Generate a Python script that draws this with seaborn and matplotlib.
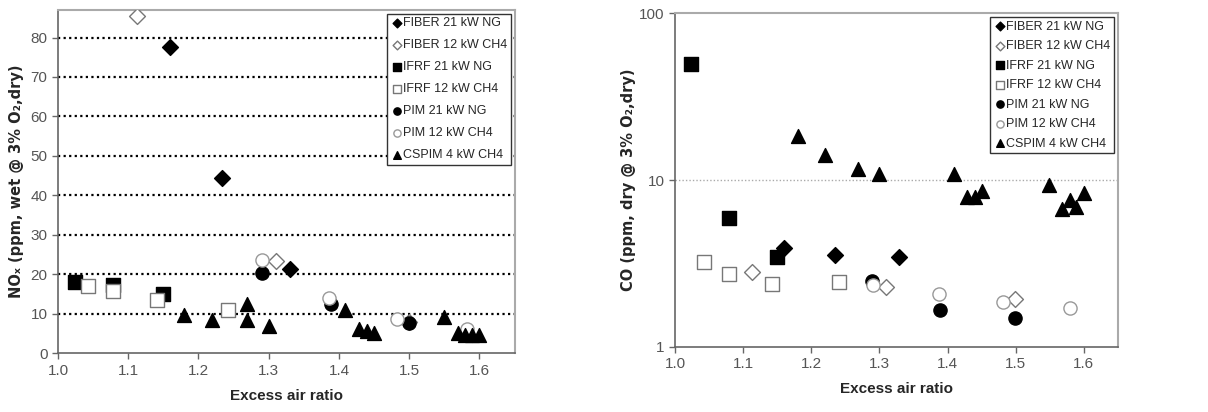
import numpy as np
import pandas as pd
import matplotlib
matplotlib.use("Agg")
import matplotlib.pyplot as plt
import seaborn as sns

sns.set_theme(style="white")
plt.rcParams['font.family'] = ['Liberation Sans', 'DejaVu Sans']

# ---------------- data ----------------
series_labels = ["FIBER 21 kW NG", "FIBER 12 kW CH4", "IFRF 21 kW NG", "IFRF 12 kW CH4",
                 "PIM 21 kW NG", "PIM 12 kW CH4", "CSPIM 4 kW CH4"]

# NOx panel
nox_fiber21_x = [1.159, 1.233, 1.330]
nox_fiber21_y = [77.7, 44.5, 21.2]
nox_fiber12_x = [1.112, 1.311, 1.500]
nox_fiber12_y = [85.4, 23.4, 8.0]
nox_ifrf21_x = [1.024, 1.079, 1.149]
nox_ifrf21_y = [18.0, 17.2, 14.9]
nox_ifrf12_x = [1.043, 1.079, 1.141, 1.242]
nox_ifrf12_y = [16.9, 15.7, 13.5, 10.8]
nox_pim21_x = [1.290, 1.389, 1.499]
nox_pim21_y = [20.2, 12.5, 7.6]
nox_pim12_x = [1.291, 1.386, 1.483, 1.582]
nox_pim12_y = [23.5, 14.0, 8.7, 6.2]
nox_cspim_x = [1.180, 1.219, 1.269, 1.269, 1.300, 1.409, 1.429, 1.440, 1.450,
               1.549, 1.569, 1.580, 1.589, 1.600]
nox_cspim_y = [9.6, 8.5, 12.5, 8.3, 6.8, 11.0, 6.2, 5.6, 5.2,
               9.1, 5.1, 4.7, 4.7, 4.7]

# CO panel
co_fiber21_x = [1.160, 1.234, 1.329]
co_fiber21_y = [3.89, 3.55, 3.47]
co_fiber12_x = [1.113, 1.310, 1.499]
co_fiber12_y = [2.82, 2.29, 1.95]
co_ifrf21_x = [1.024, 1.079, 1.149]
co_ifrf21_y = [49.4, 5.89, 3.44]
co_ifrf12_x = [1.043, 1.079, 1.142, 1.241]
co_ifrf12_y = [3.24, 2.72, 2.38, 2.45]
co_pim21_x = [1.289, 1.389, 1.499]
co_pim21_y = [2.49, 1.67, 1.48]
co_pim12_x = [1.291, 1.387, 1.481, 1.580]
co_pim12_y = [2.34, 2.07, 1.86, 1.70]
co_cspim_x = [1.180, 1.220, 1.269, 1.300, 1.410, 1.429, 1.440, 1.451,
              1.549, 1.568, 1.579, 1.589, 1.600]
co_cspim_y = [18.4, 14.1, 11.6, 10.9, 10.9, 7.9, 7.9, 8.6,
              9.3, 6.7, 7.6, 6.9, 8.4]

nox_tick_labels = ["0", "10", "20", "30", "40", "50", "60", "70", "80"]
co_tick_labels = ["1", "10", "100"]
x_tick_labels = ["1.0", "1.1", "1.2", "1.3", "1.4", "1.5", "1.6"]

# ---------------- styles ----------------
styles = [
    dict(marker="D", fc="black", ec="black", s=65),
    dict(marker="D", fc="white", ec="#777777", s=65),
    dict(marker="s", fc="black", ec="black", s=100),
    dict(marker="s", fc="white", ec="#777777", s=100),
    dict(marker="o", fc="black", ec="black", s=90),
    dict(marker="o", fc="white", ec="#999999", s=90),
    dict(marker="^", fc="black", ec="black", s=100),
]

nox_data = [(nox_fiber21_x, nox_fiber21_y), (nox_fiber12_x, nox_fiber12_y),
            (nox_ifrf21_x, nox_ifrf21_y), (nox_ifrf12_x, nox_ifrf12_y),
            (nox_pim21_x, nox_pim21_y), (nox_pim12_x, nox_pim12_y),
            (nox_cspim_x, nox_cspim_y)]
co_data = [(co_fiber21_x, co_fiber21_y), (co_fiber12_x, co_fiber12_y),
           (co_ifrf21_x, co_ifrf21_y), (co_ifrf12_x, co_ifrf12_y),
           (co_pim21_x, co_pim21_y), (co_pim12_x, co_pim12_y),
           (co_cspim_x, co_cspim_y)]

fig = plt.figure(figsize=(12.08, 4.12), dpi=100)
ax1 = fig.add_axes([0.048, 0.143, 0.378, 0.833])
ax2 = fig.add_axes([0.5588, 0.158, 0.3667, 0.810])

def draw(ax, data):
    for lab, (xs, ys), st in zip(series_labels, data, styles):
        df = pd.DataFrame({"x": xs, "y": ys})
        sns.scatterplot(data=df, x="x", y="y", ax=ax, marker=st["marker"],
                        color=st["fc"], edgecolor=st["ec"], linewidth=1.0,
                        s=st["s"], label=lab, zorder=3)

draw(ax1, nox_data)
draw(ax2, co_data)

# NOx axis
ax1.set_xlim(1.0, 1.65)
ax1.set_ylim(0, 87)
ax1.set_yticks(np.arange(0, 81, 10))
ax1.set_yticklabels(nox_tick_labels)
for v in range(10, 81, 10):
    ax1.axhline(v, color="black", linestyle=(0, (1, 1.5)), linewidth=1.6, zorder=1)
ax1.set_ylabel("NOₓ (ppm, wet @ 3% O₂,dry)", fontsize=10.5, fontweight="bold",
               family=['DejaVu Sans'], labelpad=5)

# CO axis
ax2.set_yscale("log")
ax2.set_xlim(1.0, 1.65)
ax2.set_ylim(1, 100)
ax2.set_yticks([1, 10, 100])
ax2.set_yticklabels(co_tick_labels)
ax2.minorticks_off()
ax2.axhline(10, color="#aaaaaa", linestyle=(0, (1, 1.5)), linewidth=1.0, zorder=1)
ax2.set_ylabel("CO (ppm, dry @ 3% O₂,dry)", fontsize=10.5, fontweight="bold",
               family=['DejaVu Sans'], labelpad=2)

for ax, lsp in ((ax1, 0.8), (ax2, 0.6)):
    ax.set_xticks(np.arange(1.0, 1.61, 0.1))
    ax.set_xticklabels(x_tick_labels)
    ax.set_xlabel("Excess air ratio", fontsize=11, fontweight="bold", labelpad=8)
    ax.tick_params(axis="both", labelsize=11, labelcolor="#555555", color="#666666",
                   length=4, direction="out", left=True, bottom=True, width=1)
    for sp in ("top", "right"):
        ax.spines[sp].set_color("#aaaaaa")
        ax.spines[sp].set_linewidth(1.5)
    for sp in ("left", "bottom"):
        ax.spines[sp].set_color("#666666")
        ax.spines[sp].set_linewidth(1.2)
    leg = ax.legend(loc="upper right", fontsize=9, frameon=True, fancybox=False,
                    edgecolor="#333333", framealpha=1, handletextpad=0.0,
                    borderpad=0.3, labelspacing=lsp, borderaxespad=0.3,
                    markerscale=0.55, handlelength=1.0)
    leg.get_frame().set_linewidth(1.0)

fig.savefig("out.png", dpi=100)
